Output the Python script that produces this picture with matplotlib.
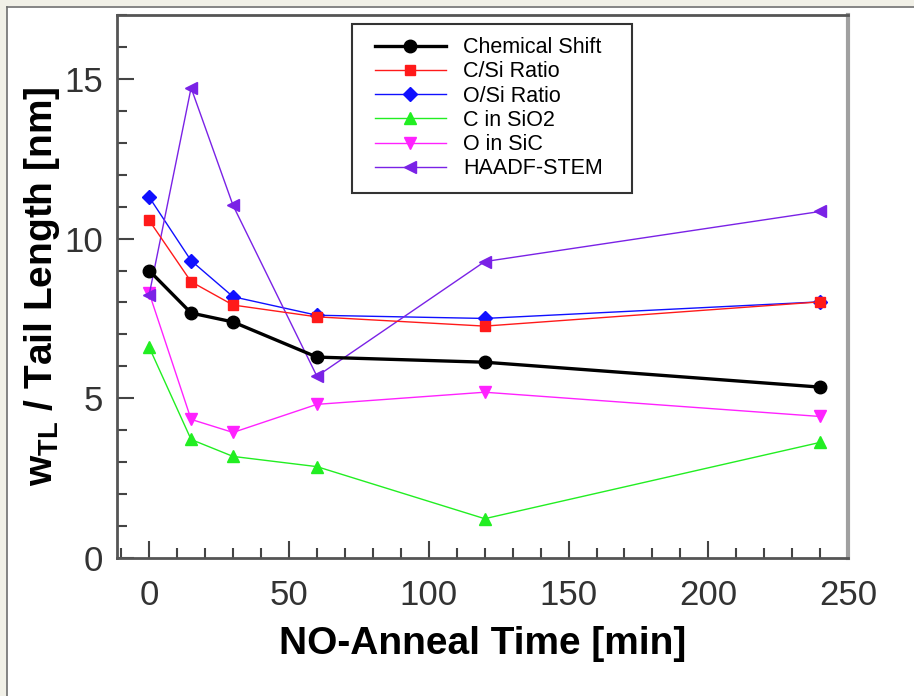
import matplotlib.pyplot as plt
from matplotlib.patches import Rectangle
from matplotlib.lines import Line2D
from matplotlib.ticker import MultipleLocator

# ==========================================
# Data
# ==========================================
anneal_time = [0, 15, 30, 60, 120, 240]

chemical_shift = [9.0, 7.67, 7.39, 6.29, 6.13, 5.35]
c_si_ratio = [10.57, 8.65, 7.92, 7.55, 7.26, 8.02]
o_si_ratio = [11.3, 9.31, 8.18, 7.6, 7.5, 8.02]
c_in_sio2 = [6.6, 3.71, 3.18, 2.86, 1.23, 3.62]
o_in_sic = [8.3, 4.34, 3.93, 4.81, 5.19, 4.43]
haadf_stem = [8.24, 14.72, 11.04, 5.69, 9.28, 10.85]

series_labels = ['Chemical Shift', 'C/Si Ratio', 'O/Si Ratio',
                 'C in SiO2', 'O in SiC', 'HAADF-STEM']

# ==========================================
# Style
# ==========================================
plt.rcParams['font.family'] = ['Liberation Sans', 'DejaVu Sans']
plt.rcParams['mathtext.fontset'] = 'custom'
plt.rcParams['mathtext.rm'] = 'Liberation Sans'
plt.rcParams['mathtext.bf'] = 'Liberation Sans:bold'

fig = plt.figure(figsize=(9.14, 6.96), dpi=100)
ax = fig.add_axes([0.128, 0.1983, 0.800, 0.7801])

# beige screenshot border on top and left
W, H = 914, 696
fig.add_artist(Rectangle((0, 1 - 6 / H), 1, 6 / H, transform=fig.transFigure,
                         facecolor='#f1f0e7', edgecolor='none', zorder=0))
fig.add_artist(Rectangle((0, 0), 7 / W, 1, transform=fig.transFigure,
                         facecolor='#f1f0e7', edgecolor='none', zorder=0))
fig.add_artist(Line2D([7.5 / W, 1], [1 - 6.5 / H, 1 - 6.5 / H], transform=fig.transFigure,
                      color='#6f6f6f', lw=1.2))
fig.add_artist(Line2D([7.5 / W, 7.5 / W], [0, 1 - 6.5 / H], transform=fig.transFigure,
                      color='#6f6f6f', lw=1.2))

# ==========================================
# Plot
# ==========================================
ax.plot(anneal_time, chemical_shift, color='black', lw=2.4, marker='o', ms=9,
        label=series_labels[0], zorder=5)
ax.plot(anneal_time, c_si_ratio, color='#ff1a1a', lw=1.0, marker='s', ms=7.5,
        label=series_labels[1], zorder=4)
ax.plot(anneal_time, o_si_ratio, color='#1010ff', lw=1.0, marker='D', ms=7,
        label=series_labels[2], zorder=3)
ax.plot(anneal_time, c_in_sio2, color='#22ee22', lw=1.0, marker='^', ms=9,
        label=series_labels[3], zorder=3)
ax.plot(anneal_time, o_in_sic, color='#ff22ff', lw=1.0, marker='v', ms=9,
        label=series_labels[4], zorder=3)
ax.plot(anneal_time, haadf_stem, color='#7a22e6', lw=1.0, marker='<', ms=9,
        label=series_labels[5], zorder=3)

ax.set_xlim(-11.5, 250)
ax.set_ylim(0, 17)
ax.xaxis.set_major_locator(MultipleLocator(50))
ax.xaxis.set_minor_locator(MultipleLocator(10))
ax.yaxis.set_major_locator(MultipleLocator(5))
ax.yaxis.set_minor_locator(MultipleLocator(1))

ax.tick_params(which='both', direction='in', top=False, right=False,
               color='#444444', width=1.5, labelcolor='#333333')
ax.tick_params(which='major', length=12, labelsize=25)
ax.tick_params(which='minor', length=7)
ax.tick_params(axis='x', pad=15)
ax.tick_params(axis='y', pad=10)

for side in ['left', 'bottom', 'top']:
    ax.spines[side].set_color('#555555')
    ax.spines[side].set_linewidth(2)
ax.spines['right'].set_color('#a0a0a0')
ax.spines['right'].set_linewidth(3)

ax.set_xlabel('NO-Anneal Time [min]', fontsize=28, fontweight='bold', labelpad=10)
ax.set_ylabel(r'$\mathbf{w}_{\mathbf{TL}}$ / Tail Length [nm]', fontsize=28,
              fontweight='bold', labelpad=2)

# legend without its own frame, the box is drawn separately (wider side margins)
leg = ax.legend(loc='upper left', bbox_to_anchor=(0.335, 0.983), borderaxespad=0,
                fontsize=15.5, frameon=False,
                handlelength=3.3, labelspacing=0.15, borderpad=0.6, handletextpad=0.8)
leg.set_zorder(10)
ax.add_patch(Rectangle((0.3215, 0.6722), 0.7045 - 0.3215, 0.9834 - 0.6722,
                       transform=ax.transAxes, facecolor='white', edgecolor='#333333',
                       lw=1.5, zorder=9))

plt.savefig('out.png', dpi=100)
